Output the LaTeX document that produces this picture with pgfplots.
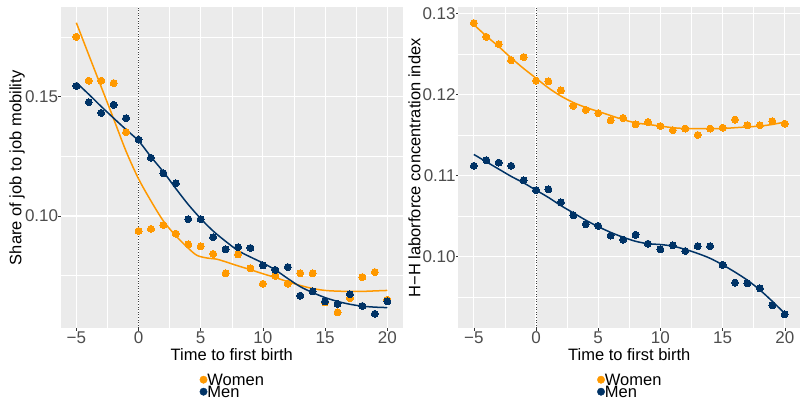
\documentclass[border=0pt]{standalone}
\usepackage{fontspec}
\setmainfont{Liberation Sans}
\usepackage{pgfplots}
\pgfplotsset{compat=1.18}
\definecolor{orng}{RGB}{255,153,0}
\definecolor{navy}{RGB}{0,51,102}
\definecolor{panel}{RGB}{235,235,235}
\definecolor{tickgray}{RGB}{77,77,77}
\pgfplotsset{
 gg/.style={
  scale only axis, width=342pt, height=321pt,
  xmin=-6.25, xmax=21.25,
  axis background/.style={fill=panel},
  axis line style={draw=none},
  grid=both,
  major grid style={white, line width=1.1pt},
  minor grid style={white, line width=0.55pt},
  xtick={-5,0,5,10,15,20},
  xticklabels={−5,0,5,10,15,20},
  minor xtick={-2.5,2.5,7.5,12.5,17.5},
  tick align=outside,
  major tick length=2.5pt,
  minor tick length=0pt,
  xtick pos=bottom, ytick pos=left,
  tick style={color=black!80, line width=0.5pt},
  tick label style={font=\fontsize{17pt}{20pt}\selectfont, text=tickgray, inner sep=0pt},
  xticklabel style={anchor=base, yshift=-12.5pt},
  yticklabel style={anchor=east},
  xlabel={Time to first birth},
  every axis x label/.style={at={(axis description cs:0.5,0)}, anchor=base, yshift=-31.7pt, font=\fontsize{16.5pt}{19pt}\selectfont},
  every axis y label/.style={at={(axis description cs:0,0.5)}, xshift=-43.8pt, rotate=90, anchor=center, font=\fontsize{16.5pt}{19pt}\selectfont},
  legend style={at={(axis description cs:0.5,0)}, anchor=north, yshift=-46.7pt,
    draw=none, fill=none, inner sep=0pt, row sep=0pt,
    font=\fontsize{16.5pt}{19pt}\selectfont,
    nodes={inner sep=0pt, text height=10pt, text depth=2pt}},
  legend cell align=left,
  legend image code/.code={\fill (3.8pt,1.5pt) circle (3.7pt);},
  clip=true,
 },
 pts/.style={only marks, mark=*, mark size=3.5pt, color=#1, mark options={fill=#1, draw=#1, line width=0pt}},
 crv/.style={no marks, smooth, color=#1, line width=1.5pt, forget plot},
}
\begin{document}
\begin{tikzpicture}
\useasboundingbox (0,0) rectangle (800pt,399pt);
% ---------------- left panel ----------------
\begin{axis}[gg, at={(60.8pt,70.7pt)}, anchor=south west,
  ymin=0.05293, ymax=0.18747,
  ytick={0.10,0.15}, yticklabels={0.10,0.15},
  minor ytick={0.075,0.125,0.175},
  ylabel={Share of job to job mobility}]
\addplot[black!75, dotted, line width=0.6pt, forget plot] coordinates {(0,0.04) (0,0.2)};
\addplot[pts=orng] coordinates {
(-5,0.1751) (-4,0.1567) (-3,0.1567) (-2,0.1557) (-1,0.1351)
(0,0.0937) (1,0.0946) (2,0.0962) (3,0.0926) (4,0.0881)
(5,0.0873) (6,0.0841) (7,0.0760) (8,0.0839) (9,0.0781)
(10,0.0716) (11,0.0749) (12,0.0716) (13,0.0760) (14,0.0760)
(15,0.0638) (16,0.0596) (17,0.0656) (18,0.0744) (19,0.0765) (20,0.0649)};
\addlegendentry{Women}
\addplot[pts=navy] coordinates {
(-5,0.1545) (-4,0.1477) (-3,0.1432) (-2,0.1466) (-1,0.1410)
(0,0.1320) (1,0.1244) (2,0.1179) (3,0.1137) (4,0.0987)
(5,0.0987) (6,0.0911) (7,0.0861) (8,0.0869) (9,0.0866)
(10,0.0793) (11,0.0774) (12,0.0786) (13,0.0666) (14,0.0684)
(15,0.0642) (16,0.0632) (17,0.0672) (18,0.0623) (19,0.0590) (20,0.0642)};
\addlegendentry{Men}
\addplot[crv=orng] coordinates {
(-5,0.1810) (-4,0.1675) (-3,0.1541) (-2,0.1407) (-1,0.1271) (0,0.1156)
(1,0.1063) (2,0.0979) (3,0.0917) (4,0.0865) (4.7,0.0835) (5.5,0.0824)
(6.3,0.0819) (7,0.0808) (8,0.0791) (9,0.0775) (10,0.0758) (11,0.0742)
(12,0.0725) (13,0.0709) (14,0.0696) (15,0.0688) (16,0.0685) (17,0.0684)
(18,0.0684) (19,0.0686) (20,0.0688)};
\addplot[crv=navy] coordinates {
(-5,0.1559) (-4,0.1510) (-3,0.1459) (-2,0.1410) (-1,0.1362) (0,0.1315)
(1,0.1248) (2,0.1185) (3,0.1115) (4,0.1048) (5,0.0989) (6,0.0937)
(7,0.0894) (8,0.0855) (9,0.0828) (10,0.0803) (11,0.0774) (12,0.0738)
(13,0.0704) (14,0.0679) (15,0.0658) (16,0.0642) (17,0.0630) (18,0.0622)
(19,0.0618) (20,0.0616)};
\end{axis}
% ---------------- right panel ----------------
\begin{axis}[gg, at={(458.3pt,70.7pt)}, anchor=south west,
  ymin=0.091175, ymax=0.13074,
  ytick={0.10,0.11,0.12,0.13}, yticklabels={0.10,0.11,0.12,0.13},
  minor ytick={0.095,0.105,0.115,0.125},
  ylabel={H−H laborforce concentration index}]
\addplot[black!75, dotted, line width=0.6pt, forget plot] coordinates {(0,0.08) (0,0.14)};
\addplot[pts=orng] coordinates {
(-5,0.1288) (-4,0.1271) (-3,0.1262) (-2,0.1242) (-1,0.1246)
(0,0.1217) (1,0.1216) (2,0.1205) (3,0.1186) (4,0.1181)
(5,0.1177) (6,0.1168) (7,0.1171) (8,0.1163) (9,0.1166)
(10,0.1161) (11,0.1156) (12,0.1158) (13,0.1150) (14,0.1158)
(15,0.1159) (16,0.1169) (17,0.1162) (18,0.1162) (19,0.1167) (20,0.1164)};
\addlegendentry{Women}
\addplot[pts=navy] coordinates {
(-5,0.1112) (-4,0.1119) (-3,0.1116) (-2,0.1112) (-1,0.1094)
(0,0.1082) (1,0.1083) (2,0.1067) (3,0.1051) (4,0.1040)
(5,0.1038) (6,0.1026) (7,0.1021) (8,0.1027) (9,0.1016)
(10,0.1009) (11,0.1014) (12,0.1007) (13,0.1013) (14,0.1013)
(15,0.0990) (16,0.0968) (17,0.0967) (18,0.0961) (19,0.0940) (20,0.0929)};
\addlegendentry{Men}
\addplot[crv=orng] coordinates {
(-5,0.1286) (-4,0.1272) (-3,0.1259) (-2,0.1245) (-1,0.1232) (0,0.1220)
(1,0.1208) (2,0.1198) (3,0.1190) (4,0.1184) (5,0.1179) (6,0.1174)
(7,0.1169) (8,0.1165) (9,0.1163) (10,0.1161) (11,0.1159) (12,0.1158)
(13,0.1158) (14,0.1158) (15,0.1158) (16,0.1159) (17,0.1160) (18,0.1161)
(19,0.1163) (20,0.1166)};
\addplot[crv=navy] coordinates {
(-5,0.1126) (-4,0.1117) (-3,0.1108) (-2,0.1099) (-1,0.1091) (0,0.1082)
(1,0.1073) (2,0.1063) (3,0.1054) (4,0.1045) (5,0.1037) (6,0.1030)
(7,0.1024) (8,0.1019) (9,0.1016) (10,0.1015) (11,0.1013) (12,0.1009)
(13,0.1004) (14,0.0998) (15,0.0990) (16,0.0981) (17,0.0971) (18,0.0959)
(19,0.0945) (20,0.0930)};
\end{axis}
\end{tikzpicture}
\end{document}
